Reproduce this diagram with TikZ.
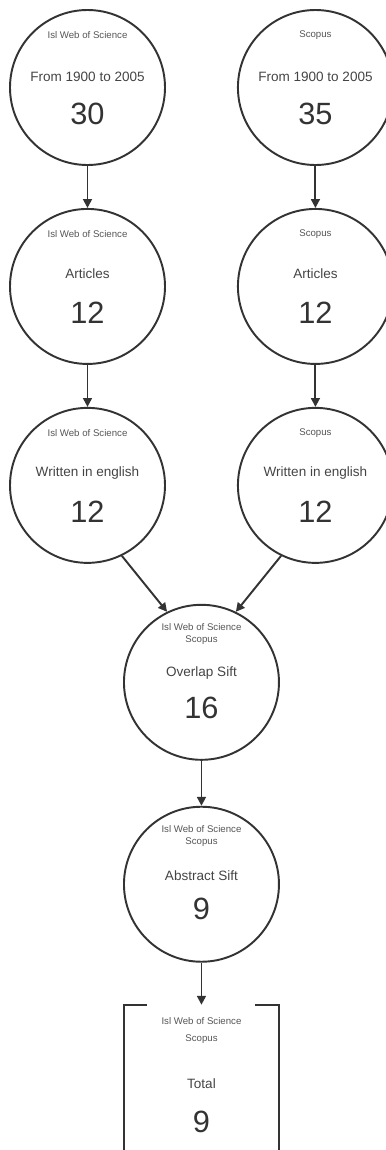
\documentclass[tikz,border=0pt]{standalone}
\usepackage{fontspec}
\setmainfont{Liberation Sans}
\usepackage{tikz}
\usetikzlibrary{positioning,calc,arrows.meta}
\definecolor{inkgray}{HTML}{333333}
\definecolor{labelgray}{HTML}{555555}
\definecolor{textgray}{HTML}{444444}

\begin{document}
\begin{tikzpicture}[
    node distance=0.84cm,
    stage/.style={circle,draw=inkgray,line width=1.1pt,minimum size=3.1cm,inner sep=0pt},
    src/.style={text=labelgray,font=\fontsize{5.5}{7}\selectfont,align=center,inner sep=0pt},
    what/.style={text=textgray,font=\fontsize{7.7}{9}\selectfont,inner sep=0pt},
    num/.style={text=inkgray,font=\fontsize{17.5}{20}\selectfont,inner sep=0pt},
    flow/.style={draw=inkgray,line width=1.1pt,-{Triangle[length=5pt,width=5pt]}}
  ]
  \useasboundingbox (0,0) rectangle (7.7,-23);
  % ISI column
  \node[stage] at (1.75,-1.75)(wos1){};
  \node[stage,below=of wos1](wos2){};
  \node[stage,below=of wos2](wos3){};
  % Scopus column
  \node[stage,right=1.42cm of wos1](sco1){};
  \node[stage,below=of sco1](sco2){};
  \node[stage,below=of sco2](sco3){};
  % merged part
  \coordinate (mid) at ($(wos3.south)!0.5!(sco3.south)$);
  \node[stage,below=0.8cm of mid](overlap){};
  \node[stage,below=0.9cm of overlap](abstract){};
  \node[minimum width=3.1cm,minimum height=3.02cm,inner sep=0pt,below=0.84cm of abstract](total){};
  %
  \node[src] at($(wos1)+(0,1.04)$)(wos1s){Isl Web of Science};
  \node[what] at($(wos1)+(0,.22)$)(wos1w){From 1900 to 2005};
  \node[num] at($(wos1)+(0,-.52)$)(wos1n){30};
  \node[src] at($(wos2)+(0,1.04)$)(wos2s){Isl Web of Science};
  \node[what] at($(wos2)+(0,.26)$)(wos2w){Articles};
  \node[num] at($(wos2)+(0,-.52)$)(wos2n){12};
  \node[src] at($(wos3)+(0,1.04)$)(wos3s){Isl Web of Science};
  \node[what] at($(wos3)+(0,.24)$)(wos3w){Written in english};
  \node[num] at($(wos3)+(0,-.52)$)(wos3n){12};
  %
  \node[src] at($(sco1)+(0,1.04)$)(sco1s){Scopus};
  \node[what] at($(sco1)+(0,.22)$)(sco1w){From 1900 to 2005};
  \node[num] at($(sco1)+(0,-.52)$)(sco1n){35};
  \node[src] at($(sco2)+(0,1.04)$)(sco2s){Scopus};
  \node[what] at($(sco2)+(0,.26)$)(sco2w){Articles};
  \node[num] at($(sco2)+(0,-.52)$)(sco2n){12};
  \node[src] at($(sco3)+(0,1.04)$)(sco3s){Scopus};
  \node[what] at($(sco3)+(0,.24)$)(sco3w){Written in english};
  \node[num] at($(sco3)+(0,-.52)$)(sco3n){12};
  %
  \node[src] at($(overlap)+(0,.96)$)(overlaps){Isl Web of Science\\Scopus};
  \node[what] at($(overlap)+(0,.18)$)(overlapw){Overlap Sift};
  \node[num] at($(overlap)+(0,-.52)$)(overlapn){16};
  \node[src] at($(abstract)+(0,.96)$)(abstracts){Isl Web of Science\\Scopus};
  \node[what] at($(abstract)+(0,.18)$)(abstractw){Abstract Sift};
  \node[num] at($(abstract)+(0,-.5)$)(abstractn){9};
  \node[src,font=\fontsize{5.5}{9.7}\selectfont] at($(total)+(0,1.01)$)(totals){Isl Web of Science\\Scopus};
  \node[what] at($(total)+(0,-.07)$)(totalw){Total};
  \node[num] at($(total)+(0,-.83)$)(totaln){9};
  %
  \draw[flow] (wos1) -- (wos2);
  \draw[flow] (wos2) -- (wos3);
  \draw[flow] (sco1) -- (sco2);
  \draw[flow] (sco2) -- (sco3);
  \draw[flow] (wos3.-64) -- (overlap.116);
  \draw[flow] (sco3.-116) -- (overlap.64);
  \draw[flow] (overlap) -- (abstract);
  \draw[flow] (abstract.south) -- (total.north);
  % open box round the total
  \draw[inkgray,line width=1.1pt] ($(total.north west)+(.46,0)$) -| (total.south west) -- +(.5,0);
  \draw[inkgray,line width=1.1pt] ($(total.north east)+(-.48,0)$) -| (total.south east) -- +(-.48,0);
\end{tikzpicture}
\end{document}
